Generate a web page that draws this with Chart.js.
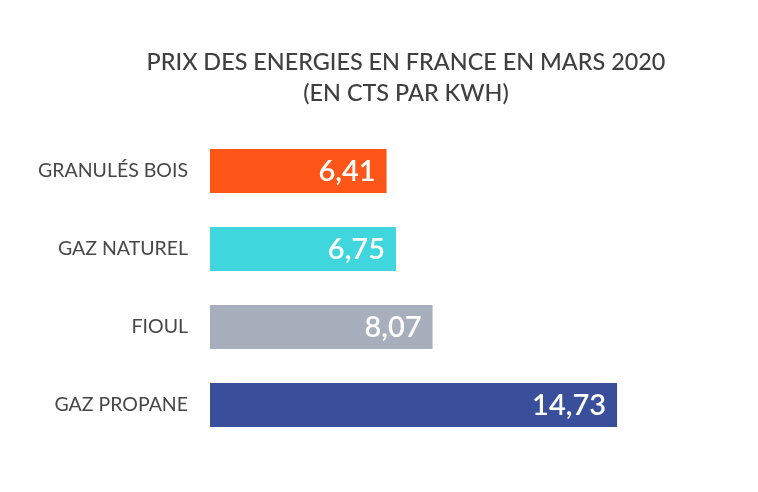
<!DOCTYPE html>
<html lang="fr">
  <head>
    <meta charset="UTF-8" />
    <script src="https://cdn.jsdelivr.net/npm/chart.js@4.4.1/dist/chart.umd.min.js"></script>
    <style>
      html, body { margin: 0; padding: 0; background: #fff; }
      #wrap { width: 758px; height: 492px; }
    </style>
  </head>
  <body>
    <div id="wrap"><canvas id="myChart"></canvas></div>
    <script>
      const categories = ["GRANULÉS BOIS", "GAZ NATUREL", "FIOUL", "GAZ PROPANE"];
      const prices = [6.41, 6.75, 8.07, 14.73];
      const barColors = ["#fe5618", "#3fd7dd", "#a8afbc", "#394f9b"];
      const titleLines = ["PRIX DES ENERGIES EN FRANCE EN MARS 2020", "(EN CTS PAR KWH)"];

      // writes the value inside the end of each bar
      const valueLabels = {
        id: "valueLabels",
        afterDatasetsDraw(chart) {
          const ctx = chart.ctx;
          const meta = chart.getDatasetMeta(0);
          ctx.save();
          ctx.fillStyle = "#ffffff";
          ctx.font = "600 29px Lato";
          ctx.textAlign = "right";
          ctx.textBaseline = "middle";
          meta.data.forEach((bar, i) => {
            const txt = prices[i].toFixed(2).replace(".", ",");
            ctx.fillText(txt, bar.x - 12, bar.y + 1);
          });
          ctx.restore();
        },
      };

      // title sits a bit right of the canvas centre, like the original
      const titleBlock = {
        id: "titleBlock",
        afterDraw(chart) {
          const ctx = chart.ctx;
          ctx.save();
          ctx.fillStyle = "#3f3f3f";
          ctx.font = "500 23.4px Lato";
          ctx.textAlign = "center";
          ctx.textBaseline = "middle";
          const cx = chart.width / 2 + 27;
          titleLines.forEach((line, i) => ctx.fillText(line, cx, 62 + i * 31));
          ctx.restore();
        },
      };

      const ctx = document.getElementById("myChart").getContext("2d");
      new Chart(ctx, {
        type: "bar",
        data: {
          labels: categories,
          datasets: [
            {
              data: prices,
              backgroundColor: barColors,
              borderColor: "rgba(255,255,255,0.6)",
              borderWidth: 1,
              barPercentage: 1,
              categoryPercentage: 0.59,
            },
          ],
        },
        options: {
          indexAxis: "y",
          responsive: true,
          maintainAspectRatio: false,
          animation: false,
          layout: { padding: { left: 0, right: 20, top: 132, bottom: 48 } },
          plugins: {
            legend: { display: false },
            tooltip: { enabled: false },
            title: { display: false },
          },
          scales: {
            x: {
              display: false,
              min: 0,
              max: 19.06,
            },
            y: {
              border: { display: false },
              grid: { display: false, drawTicks: false },
              afterFit: (scale) => { scale.width = 210; },
              ticks: {
                padding: 22,
                color: "#474747",
                font: { family: "Lato", size: 19.5 },
              },
            },
          },
        },
        plugins: [valueLabels, titleBlock],
      });
    </script>
  </body>
</html>
